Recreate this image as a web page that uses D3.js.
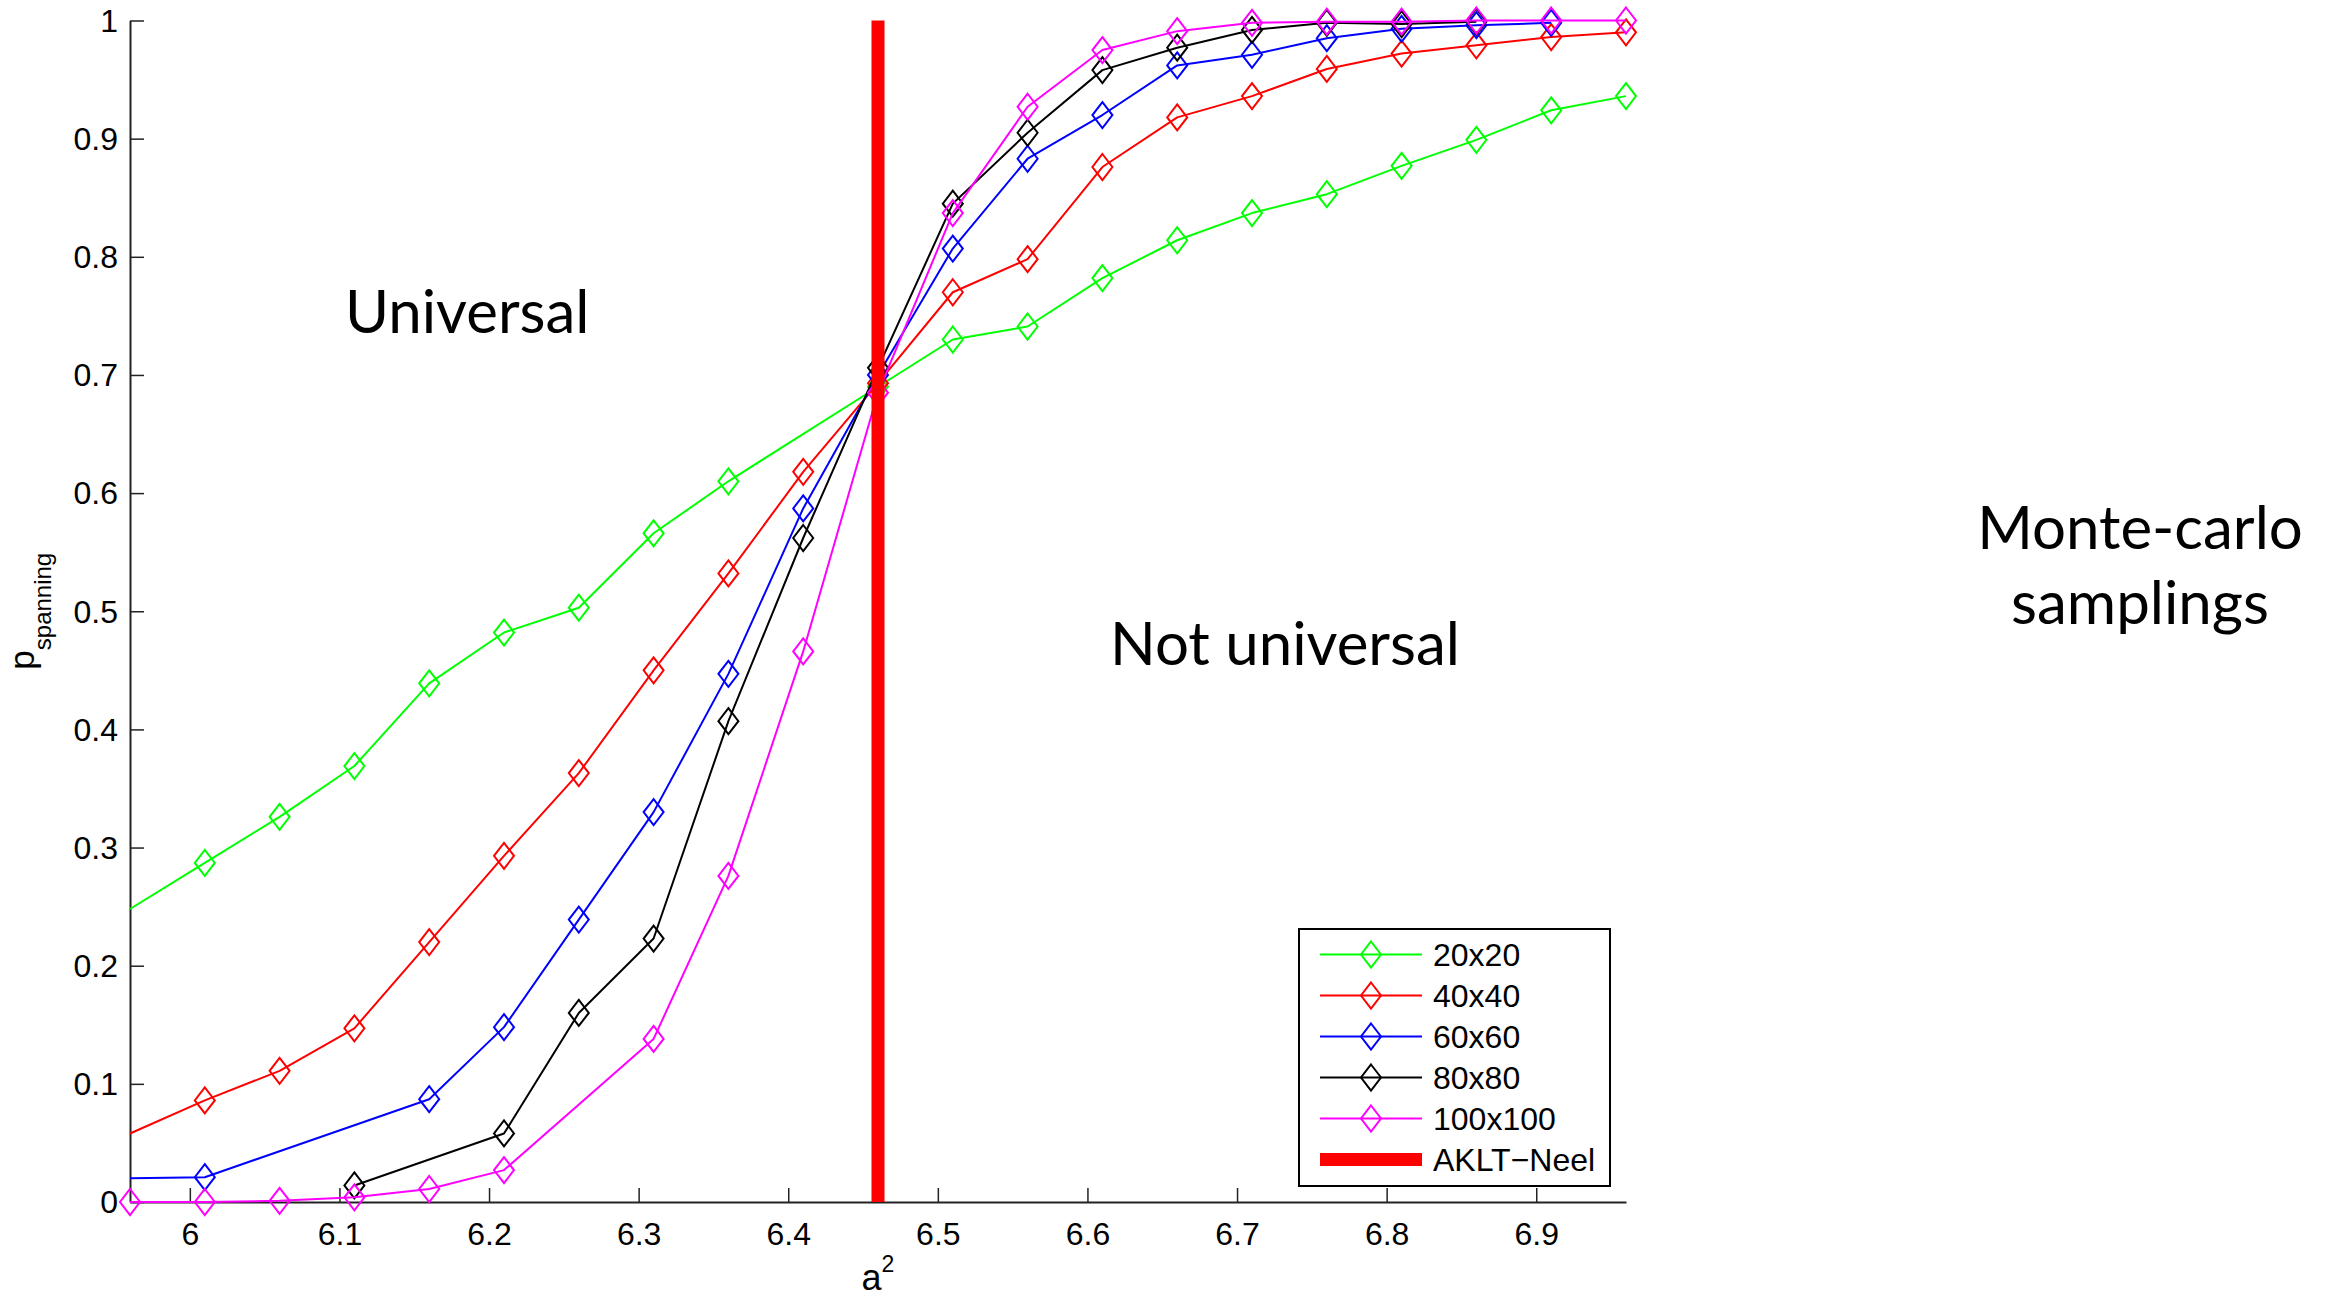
<!DOCTYPE html>
<html>
<head>
<meta charset="utf-8">
<script src="https://cdn.jsdelivr.net/npm/d3@7"></script>
<style>
  body { margin: 0; background: #fff; }
  svg { display: block; }
  .tick text { font-family: "Liberation Sans", Arial, sans-serif; font-size: 32px; fill: #000; }
  .axislabel { font-family: "Liberation Sans", Arial, sans-serif; fill: #000; }
  .note { font-family: Lato, "Open Sans", sans-serif; font-size: 60px; fill: #000; }
  .legend text { font-family: "Liberation Sans", Arial, sans-serif; font-size: 32px; fill: #000; }
</style>
</head>
<body>
<svg id="chart" width="2329" height="1298"></svg>
<script>
// a^2 sample points (shared by all lattice sizes)
var xValues = [5.96, 6.01, 6.06, 6.11, 6.16, 6.21, 6.26, 6.31, 6.36, 6.41, 6.46,
               6.51, 6.56, 6.61, 6.66, 6.71, 6.76, 6.81, 6.86, 6.91, 6.96];

// p_spanning per lattice size, null = no sample at that a^2
var p20  = [0.248, 0.287, 0.326, 0.369, 0.439, 0.482, 0.503, 0.566, 0.610, null, 0.690,
            0.730, 0.741, 0.782, 0.814, 0.837, 0.853, 0.877, 0.899, 0.924, 0.936];
var p40  = [0.058, 0.086, 0.111, 0.147, 0.220, 0.293, 0.363, 0.450, 0.532, 0.618, 0.693,
            0.770, 0.798, 0.876, 0.918, 0.936, 0.959, 0.972, 0.979, 0.986, 0.990];
var p60  = [0.020, 0.021, null, null, 0.087, 0.148, 0.239, 0.330, 0.447, 0.587, 0.700,
            0.807, 0.883, 0.920, 0.962, 0.971, 0.985, 0.993, 0.996, 0.998, null];
var p80  = [null, null, null, 0.014, null, 0.058, 0.160, 0.223, 0.407, 0.562, 0.706,
            0.845, 0.905, 0.958, 0.977, 0.992, 0.998, 0.997, 0.999, null, null];
var p100 = [0.000, 0.000, 0.001, 0.004, 0.011, 0.027, null, 0.138, 0.276, 0.466, 0.685,
            0.837, 0.927, 0.975, 0.991, 0.998, 0.999, 0.999, 1.000, 1.000, 1.000];

var seriesNames  = ["20x20", "40x40", "60x60", "80x80", "100x100"];
var seriesColors = ["#00ff00", "#ff0000", "#0000ff", "#000000", "#ff00ff"];
var seriesValues = [p20, p40, p60, p80, p100];
// these lines come in through the left axis, their first value has no marker
var axisEntry = ["20x20", "40x40", "60x60"];

var akltX = 6.46;
var akltName = "AKLT\u2212Neel";

var xTicks = [6, 6.1, 6.2, 6.3, 6.4, 6.5, 6.6, 6.7, 6.8, 6.9];
var xTickLabels = ["6", "6.1", "6.2", "6.3", "6.4", "6.5", "6.6", "6.7", "6.8", "6.9"];
var yTicks = [0, 0.1, 0.2, 0.3, 0.4, 0.5, 0.6, 0.7, 0.8, 0.9, 1];
var yTickLabels = ["0", "0.1", "0.2", "0.3", "0.4", "0.5", "0.6", "0.7", "0.8", "0.9", "1"];

var svg = d3.select("#chart");
var plotL = 130, plotR = 1626, plotT = 20.5, plotB = 1202;

var x = d3.scaleLinear().domain([5.96, 6.96]).range([plotL, plotR]);
var y = d3.scaleLinear().domain([0, 1]).range([plotB, plotT]);

// tall diamond like the matlab 'd' marker
var tallDiamond = {
  draw: function(ctx, size) {
    var w = Math.sqrt(size) / 2, h = w * 1.3;
    ctx.moveTo(0, -h); ctx.lineTo(w, 0); ctx.lineTo(0, h); ctx.lineTo(-w, 0); ctx.closePath();
  }
};
var marker = d3.symbol().type(tallDiamond).size(400);

// axes
var xAxis = svg.append("g")
  .attr("transform", "translate(0," + plotB + ")")
  .call(d3.axisBottom(x).tickValues(xTicks)
    .tickFormat(function(d, i) { return xTickLabels[i]; })
    .tickSizeInner(-14).tickSizeOuter(0).tickPadding(20));
var yAxis = svg.append("g")
  .attr("transform", "translate(" + plotL + ",0)")
  .call(d3.axisLeft(y).tickValues(yTicks)
    .tickFormat(function(d, i) { return yTickLabels[i]; })
    .tickSizeInner(-14).tickSizeOuter(0).tickPadding(12));
[xAxis, yAxis].forEach(function(a) {
  a.select(".domain").attr("stroke", "#222").attr("stroke-width", 2);
  a.selectAll(".tick line").attr("stroke", "#222").attr("stroke-width", 1.5);
});
yAxis.selectAll(".tick text").attr("dy", "0.34em");

// series
var line = d3.line()
  .x(function(d) { return x(d.x); })
  .y(function(d) { return y(d.v); });

seriesNames.forEach(function(name, s) {
  var pts = [];
  for (var i = 0; i < xValues.length; i++) {
    if (seriesValues[s][i] !== null) pts.push({x: xValues[i], v: seriesValues[s][i]});
  }
  var g = svg.append("g").attr("class", "series");
  g.append("path")
    .attr("d", line(pts))
    .attr("fill", "none")
    .attr("stroke", seriesColors[s])
    .attr("stroke-width", 2)
    .attr("stroke-linejoin", "round");
  var markPts = axisEntry.indexOf(name) !== -1 ? pts.slice(1) : pts;
  g.selectAll("path.mark")
    .data(markPts)
    .enter()
    .append("path")
    .attr("class", "mark")
    .attr("d", marker)
    .attr("transform", function(d) { return "translate(" + x(d.x) + "," + y(d.v) + ")"; })
    .attr("fill", "none")
    .attr("stroke", seriesColors[s])
    .attr("stroke-width", 2);
});

// AKLT-Neel transition
svg.append("line")
  .attr("x1", x(akltX)).attr("x2", x(akltX))
  .attr("y1", y(0)).attr("y2", y(1))
  .attr("stroke", "#ff0000")
  .attr("stroke-width", 13);

// axis labels
var xl = svg.append("text").attr("class", "axislabel")
  .attr("x", (plotL + plotR) / 2).attr("y", 1290)
  .attr("text-anchor", "middle").style("font-size", "36px");
xl.append("tspan").text("a");
xl.append("tspan").attr("dy", -18).style("font-size", "23px").text("2");

var yl = svg.append("text").attr("class", "axislabel")
  .attr("transform", "translate(34," + ((plotT + plotB) / 2) + ") rotate(-90)")
  .attr("text-anchor", "middle").style("font-size", "35px");
yl.append("tspan").text("p");
yl.append("tspan").attr("dy", 17).style("font-size", "24px").text("spanning");

// legend
var legend = svg.append("g").attr("class", "legend");
legend.append("rect")
  .attr("x", 1299).attr("y", 929).attr("width", 311).attr("height", 257)
  .attr("fill", "#fff").attr("stroke", "#000").attr("stroke-width", 2);
var legendNames = seriesNames.concat([akltName]);
var legendColors = seriesColors.concat(["#ff0000"]);
var rows = legend.selectAll("g.row")
  .data(legendNames)
  .enter()
  .append("g")
  .attr("class", "row")
  .attr("transform", function(d, i) { return "translate(0," + (954.5 + i * 41) + ")"; });
rows.append("line")
  .attr("x1", 1320).attr("x2", 1422)
  .attr("stroke", function(d, i) { return legendColors[i]; })
  .attr("stroke-width", function(d, i) { return i < seriesNames.length ? 2 : 13; });
rows.filter(function(d, i) { return i < seriesNames.length; })
  .append("path")
  .attr("d", marker)
  .attr("transform", "translate(1371,0)")
  .attr("fill", "none")
  .attr("stroke", function(d, i) { return seriesColors[i]; })
  .attr("stroke-width", 2);
rows.append("text")
  .attr("x", 1433).attr("dy", "0.36em")
  .text(function(d) { return d; });

// annotations
svg.append("text").attr("class", "note").attr("x", 345).attr("y", 333).text("Universal");
svg.append("text").attr("class", "note").attr("x", 1110).attr("y", 665).text("Not universal");
svg.append("text").attr("class", "note").attr("x", 2140).attr("y", 549)
  .attr("text-anchor", "middle").text("Monte-carlo");
svg.append("text").attr("class", "note").attr("x", 2140).attr("y", 624)
  .attr("text-anchor", "middle").text("samplings");
</script>
</body>
</html>
